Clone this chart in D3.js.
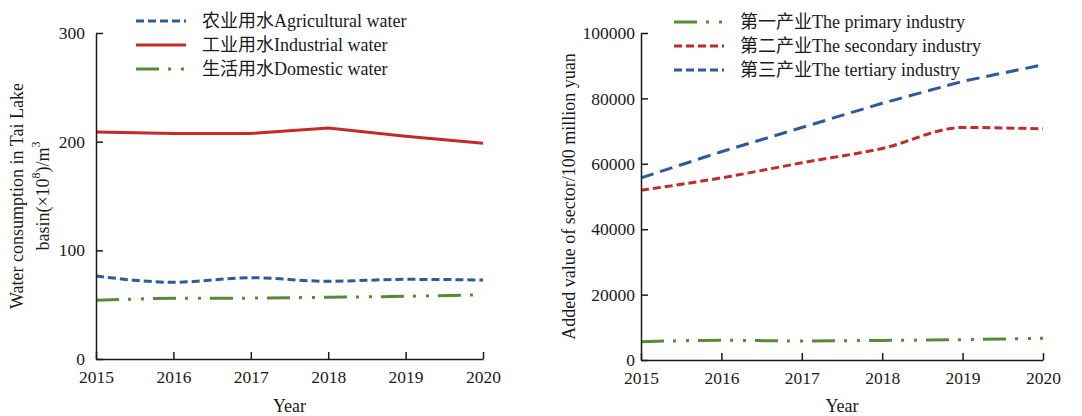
<!DOCTYPE html>
<html>
<head>
<meta charset="utf-8">
<script src="https://cdn.jsdelivr.net/npm/d3@7"></script>
<style>
  html, body { margin: 0; padding: 0; background: #fff; }
  svg { display: block; }
  text { font-family: "Liberation Serif", "Times New Roman", "Noto Sans CJK SC", serif; fill: #1a1a1a; }
</style>
</head>
<body>
<svg id="chart" width="1082" height="416"></svg>
<script>
// Years on the shared x axis
const years = [2015, 2016, 2017, 2018, 2019, 2020];

// Water consumption in the Tai Lake basin (10^8 m^3)
const agricultural = [76.4, 70.6, 74.8, 71.5, 73.3, 72.7];
const industrial   = [208.8, 207.6, 207.6, 212.5, 205.0, 198.5];
const domestic     = [54.0, 55.8, 56.0, 56.8, 57.7, 59.2];

// Added value by sector (100 million yuan)
const primary   = [5600, 6030, 5820, 6000, 6220, 6640];
const secondary = [51900, 55700, 60300, 64700, 71100, 70700];
const tertiary  = [55700, 63700, 71100, 78500, 85200, 90300];

// Tick values
const waterTicks = [0, 100, 200, 300];
const valueTicks = [0, 20000, 40000, 60000, 80000, 100000];

// Series labels
const waterLabels = ["农业用水Agricultural water", "工业用水Industrial water", "生活用水Domestic water"];
const sectorLabels = ["第一产业The primary industry", "第二产业The secondary industry", "第三产业The tertiary industry"];

const BLUE = "#2c5a9e", RED = "#c42a2a", GREEN = "#558b35";
const DASH_SHORT = "8,4";
const DASH_LONG = "13,7";
const DASH_DOT_DOT = "23,9,3,10,3,9";
const TICK_FONT = 17.5, LABEL_FONT = 18;

const svg = d3.select("#chart");

function drawPanel(cfg) {
  const g = svg.append("g");
  const x = d3.scaleLinear().domain([years[0], years[years.length - 1]]).range(cfg.xRange);
  const y = d3.scaleLinear().domain(cfg.yDomain).range(cfg.yRange);

  // series
  cfg.series.forEach(s => {
    const line = d3.line()
      .x((d, i) => x(years[i]))
      .y(d => y(d))
      .curve(s.curve || d3.curveMonotoneX);
    g.append("path")
      .datum(s.values)
      .attr("fill", "none")
      .attr("stroke", s.color)
      .attr("stroke-width", 3)
      .attr("stroke-dasharray", s.dash || null)
      .attr("d", line);
  });

  // axes with inward ticks
  const xAxis = d3.axisBottom(x)
    .tickValues(years)
    .tickFormat(d3.format("d"))
    .tickSizeInner(-7).tickSizeOuter(0).tickPadding(12);
  const yAxis = d3.axisLeft(y)
    .tickValues(cfg.yTicks)
    .tickFormat(d3.format("d"))
    .tickSizeInner(-7).tickSizeOuter(0).tickPadding(cfg.yPad);

  const gx = g.append("g").attr("transform", `translate(0,${cfg.yRange[0]})`).call(xAxis);
  const gy = g.append("g").attr("transform", `translate(${cfg.xRange[0]},0)`).call(yAxis);
  [gx, gy].forEach(a => {
    a.attr("font-family", null).attr("font-size", null);
    a.select(".domain").attr("stroke", "#1a1a1a").attr("stroke-width", 1.5);
    a.selectAll(".tick line").attr("stroke", "#1a1a1a").attr("stroke-width", 1.5);
    a.selectAll(".tick text").attr("font-size", TICK_FONT).attr("fill", "#1a1a1a");
  });

  // x title
  g.append("text")
    .attr("x", (cfg.xRange[0] + cfg.xRange[1]) / 2)
    .attr("y", 412)
    .attr("text-anchor", "middle")
    .attr("font-size", LABEL_FONT)
    .text("Year");

  // y title (one or two lines)
  const yc = (cfg.yRange[0] + cfg.yRange[1]) / 2;
  cfg.yTitle.forEach((t, i) => {
    const tx = g.append("text")
      .attr("transform", `translate(${cfg.yTitleX[i]},${yc}) rotate(-90)`)
      .attr("text-anchor", "middle")
      .attr("dominant-baseline", "central")
      .attr("font-size", LABEL_FONT);
    t.forEach(part => {
      const span = tx.append("tspan").text(part.text);
      if (part.sup) span.attr("baseline-shift", "super").attr("font-size", 12);
    });
  });

  // legend
  cfg.series.forEach((s, i) => {
    const ly = cfg.legendY + i * 24;
    g.append("line")
      .attr("x1", cfg.legendX).attr("x2", cfg.legendX + 50)
      .attr("y1", ly).attr("y2", ly)
      .attr("stroke", s.color).attr("stroke-width", 3)
      .attr("stroke-dasharray", s.legendDash || s.dash || null);
    g.append("text")
      .attr("x", cfg.legendX + 66)
      .attr("y", ly)
      .attr("dominant-baseline", "central")
      .attr("font-size", LABEL_FONT)
      .text(s.label);
  });
}

drawPanel({
  xRange: [96, 483],
  yRange: [359, 33],
  yDomain: [0, 300],
  yTicks: waterTicks,
  yPad: 11,
  yTitleX: [17, 43],
  yTitle: [
    [{ text: "Water consumption in Tai Lake" }],
    [{ text: "basin(×10" }, { text: "8", sup: true }, { text: ")/m" }, { text: "3", sup: true }]
  ],
  legendX: 136,
  legendY: 21,
  series: [
    { values: agricultural, color: BLUE, dash: DASH_SHORT, label: waterLabels[0] },
    { values: industrial, color: RED, curve: d3.curveLinear, label: waterLabels[1] },
    { values: domestic, color: GREEN, dash: DASH_DOT_DOT, label: waterLabels[2] }
  ]
});

drawPanel({
  xRange: [641, 1043],
  yRange: [360, 33],
  yDomain: [0, 100000],
  yTicks: valueTicks,
  yPad: 6,
  yTitleX: [569],
  yTitle: [[{ text: "Added value of sector/100 million yuan" }]],
  legendX: 674,
  legendY: 22,
  series: [
    { values: primary, color: GREEN, dash: DASH_DOT_DOT, label: sectorLabels[0] },
    { values: secondary, color: RED, dash: DASH_SHORT, label: sectorLabels[1] },
    { values: tertiary, color: BLUE, dash: DASH_LONG, legendDash: DASH_SHORT, curve: d3.curveLinear, label: sectorLabels[2] }
  ]
});
</script>
</body>
</html>
